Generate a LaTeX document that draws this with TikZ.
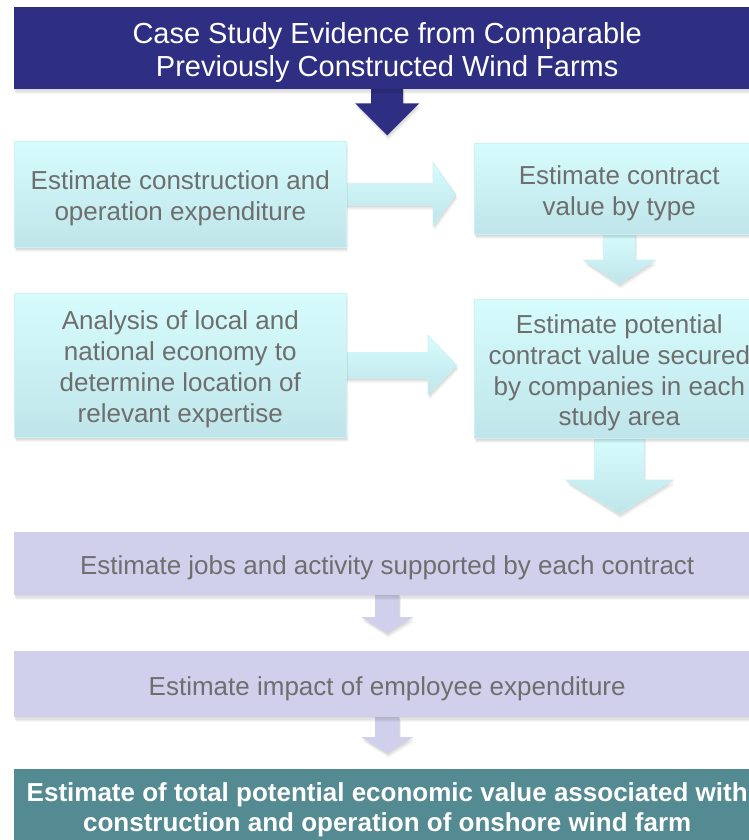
\documentclass[tikz,border=0pt]{standalone}
\usepackage{fontspec}
\setmainfont{Liberation Sans}
\usetikzlibrary{calc}

\definecolor{navy}{RGB}{46,47,130}
\definecolor{aquatop}{RGB}{214,252,253}
\definecolor{aquabot}{RGB}{191,229,234}
\definecolor{lavender}{RGB}{208,208,236}
\definecolor{teal}{RGB}{84,138,146}
\definecolor{greytext}{RGB}{110,110,110}

\pgfdeclarelayer{paper}
\pgfdeclarelayer{arrows}
\pgfsetlayers{paper,arrows,main}

% invisible strut that sets the height of a box's first line
\newcommand\firstline[1]{\rule{0pt}{#1pt}}

% block arrow pointing down: style, start, tip, shaft half-width, head half-width, head length
\newcommand\blockdown[6]{%
  \path[#1] let \p1=(#2), \p2=(#3) in
    (\x1-#4pt,\y1+2pt) -- (\x1-#4pt,\y2+#6pt) -- (\x1-#5pt,\y2+#6pt) -- (\x1,\y2)
    -- (\x1+#5pt,\y2+#6pt) -- (\x1+#4pt,\y2+#6pt) -- (\x1+#4pt,\y1+2pt) -- cycle;}
% block arrow pointing right
\newcommand\blockright[6]{%
  \path[#1] let \p1=(#2), \p2=(#3) in
    (\x1-2pt,\y1+#4pt) -- (\x2-#6pt,\y1+#4pt) -- (\x2-#6pt,\y1+#5pt) -- (\x2,\y1)
    -- (\x2-#6pt,\y1-#5pt) -- (\x2-#6pt,\y1-#4pt) -- (\x1-2pt,\y1-#4pt) -- cycle;}

\tikzset{
  softshadow/.style={
    preaction={fill=black, fill opacity=0.045, transform canvas={xshift=0.4pt, yshift=-1.2pt}},
    preaction={fill=black, fill opacity=0.045, transform canvas={xshift=0.8pt, yshift=-2.4pt}},
    preaction={fill=black, fill opacity=0.04, transform canvas={xshift=1.2pt, yshift=-3.6pt}},
    preaction={fill=black, fill opacity=0.03, transform canvas={xshift=1.6pt, yshift=-4.8pt}}},
  basebox/.style={anchor=north west, inner sep=0pt, align=center, softshadow},
  aquabox/.style={basebox, top color=aquatop, bottom color=aquabot,
      draw=aquatop!50!aquabot, line width=0.6pt, text=greytext,
      font=\fontsize{26}{30.8}\selectfont},
  lavbox/.style={basebox, fill=lavender, text=greytext,
      font=\fontsize{26}{30.8}\selectfont},
  navybox/.style={basebox, fill=navy, text=white,
      font=\fontsize{29}{33}\selectfont},
  tealbox/.style={basebox, fill=teal, text=white,
      font=\fontsize{26}{30}\selectfont\bfseries},
  navyarrow/.style={fill=navy, softshadow},
  aquaarrow/.style={top color=aquatop, bottom color=aquabot,
      draw=aquatop!50!aquabot, line width=0.6pt, softshadow},
  lavarrow/.style={fill=lavender, softshadow},
}

\begin{document}
\begin{tikzpicture}[x=1pt,y=-1pt]
\useasboundingbox (0,0) rectangle (748,840);
\begin{pgfonlayer}{paper}
  \fill[white] (0,0) rectangle (748,840);
\end{pgfonlayer}

\node[navybox, minimum width=746, minimum height=82] (top) at (14,7)
  {\firstline{29}Case Study Evidence from Comparable\\Previously Constructed Wind Farms};

\node[aquabox, minimum width=332, minimum height=106] (cost) at (14,141)
  {\firstline{27}Estimate construction and\\operation expenditure};
\node[aquabox, minimum width=290, minimum height=91] (type) at (474,143)
  {\firstline{27}Estimate contract\\value by type};
\node[aquabox, minimum width=332, minimum height=144] (econ) at (14,293)
  {\firstline{27}Analysis of local and\\national economy to\\determine location of\\relevant expertise};
\node[aquabox, minimum width=290, minimum height=139] (area) at (474,299)
  {\firstline{27}Estimate potential\\contract value secured\\by companies in each\\study area};

\node[lavbox, minimum width=746, minimum height=63] (jobs) at (14,532)
  {\firstline{27.5}Estimate jobs and activity supported by each contract};
\node[lavbox, minimum width=746, minimum height=66] (spend) at (14,651)
  {\firstline{27.5}Estimate impact of employee expenditure};

\node[tealbox, minimum width=746, minimum height=76] (total) at (14,769)
  {\firstline{23.5}Estimate of total potential economic value associated with\\construction and operation of onshore wind farm};

\begin{pgfonlayer}{arrows}
  \coordinate (toptip) at ($(top.south)+(0,46)$);
  \blockdown{navyarrow}{top.south}{toptip}{16}{32}{32}
  \blockright{aquaarrow}{cost.east}{$(type.west)+(-18,0)$}{11}{32}{23}
  \blockdown{aquaarrow}{type.south}{$(area.north)+(0,-15)$}{16}{36}{24}
  \blockright{aquaarrow}{econ.east}{$(area.west)+(-17,0)$}{13}{30}{29}
  \blockdown{aquaarrow}{area.south}{$(jobs.north)+(0,-18)$}{25}{54}{34}
  \blockdown{lavarrow}{jobs.south}{$(spend.north)+(0,-18)$}{12}{26}{16}
  \blockdown{lavarrow}{spend.south}{$(total.north)+(0,-16)$}{12}{26}{16}
\end{pgfonlayer}
\end{tikzpicture}
\end{document}
